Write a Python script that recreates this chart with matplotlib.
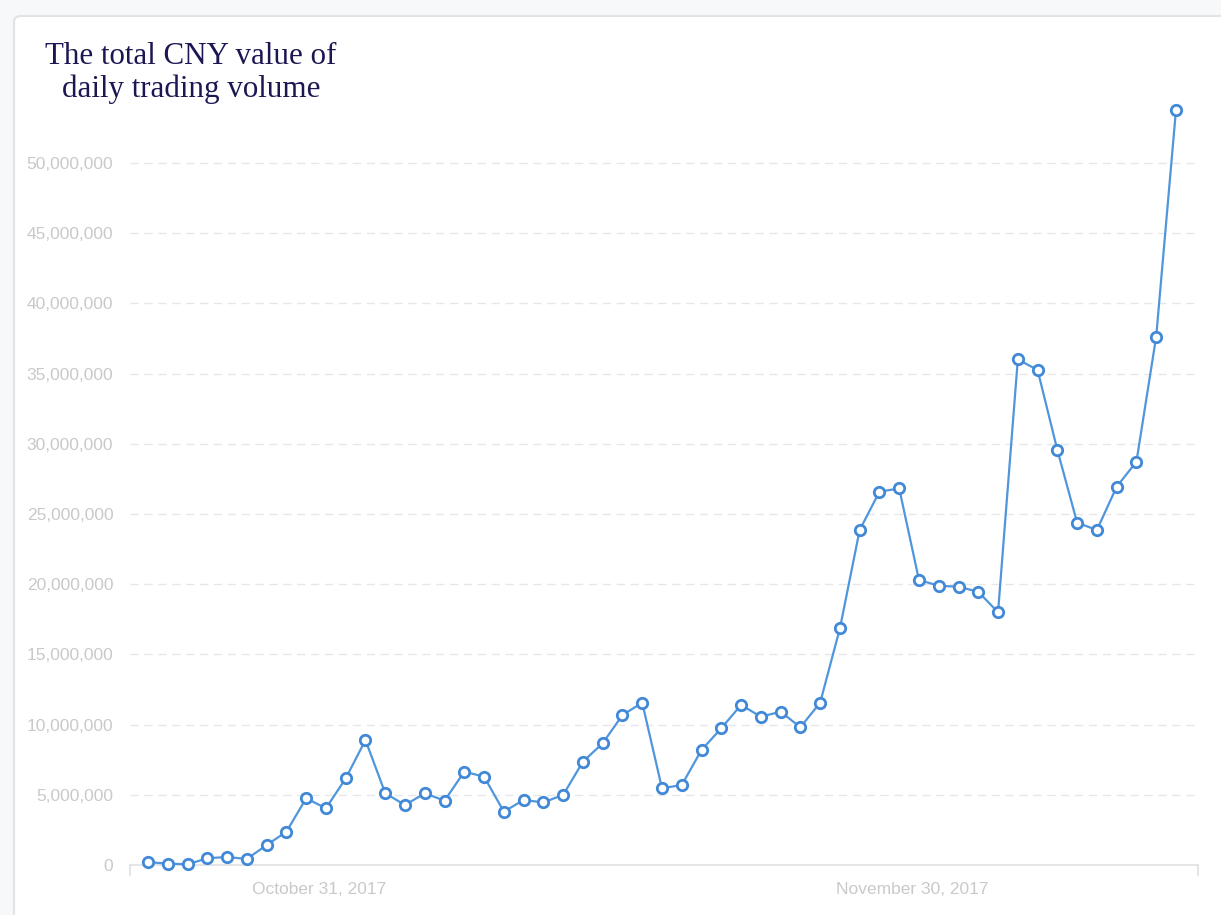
import numpy as np
import pandas as pd
import matplotlib
matplotlib.use('Agg')
import matplotlib.pyplot as plt
import matplotlib.dates as mdates
from matplotlib.patches import FancyBboxPatch
from matplotlib.ticker import FuncFormatter

# daily trading volume in CNY (millions)
start_date = '2017-10-22 08:00'
volume_m = [0.2, 0.1, 0.05, 0.48, 0.57, 0.43, 1.42, 2.37, 4.75, 4.04,
            6.17, 8.90, 5.11, 4.27, 5.11, 4.58, 6.65, 6.29, 3.80, 4.63,
            4.46, 4.99, 7.36, 8.67, 10.68, 11.56, 5.46, 5.70, 8.19, 9.74,
            11.40, 10.56, 10.92, 9.81, 11.56, 16.85, 23.86, 26.59, 26.82, 20.30,
            19.89, 19.82, 19.46, 18.00, 36.01, 35.26, 29.56, 24.38, 23.86, 26.94,
            28.72, 37.63, 53.77]
tick_dates = ['2017-10-31', '2017-11-30']
y_ticks = [0, 5e6, 10e6, 15e6, 20e6, 25e6, 30e6, 35e6, 40e6, 45e6, 50e6]
title = 'The total CNY value of\ndaily trading volume'

dates = pd.date_range(start_date, periods=len(volume_m), freq='D')
volume = np.array(volume_m) * 1e6

W, H = 1221, 915
fig = plt.figure(figsize=(W / 100, H / 100), dpi=100)
fig.patch.set_facecolor('#f7f8fa')

# white card behind everything
card = FancyBboxPatch((14 / W, 1 - 930 / H), 1230 / W, 914 / H,
                      boxstyle='round,pad=0,rounding_size=0.006',
                      transform=fig.transFigure, facecolor='white',
                      edgecolor='#e2e3e6', linewidth=1.5, zorder=-5)
fig.patches.append(card)

ax = fig.add_axes([130 / W, 50 / H, 1068 / W, (865 - 92.8) / H])
ax.set_facecolor('none')
ax.set_zorder(2)

ax.plot(dates, volume, color='#5096dc', linewidth=1.6, marker='o',
        markersize=7.5, markerfacecolor='white', markeredgecolor='#4189d6',
        markeredgewidth=2.0, zorder=3, clip_on=False)

day0 = dates[0]
ax.set_xlim(day0 - pd.Timedelta(days=0.912), dates[-1] + pd.Timedelta(days=1.115))
ax.set_ylim(0, 55e6)

ax.set_yticks(y_ticks)
ax.yaxis.set_major_formatter(FuncFormatter(lambda v, p: '{:,.0f}'.format(v)))
ax.set_xticks(pd.to_datetime(tick_dates))
ax.xaxis.set_major_formatter(mdates.DateFormatter('%B %d, %Y'))

ax.grid(axis='y', color='#e7e7ea', linestyle=(0, (6, 4)), linewidth=1.0)
ax.grid(axis='x', visible=False)
ax.set_axisbelow(True)

for s in ['top', 'right', 'left']:
    ax.spines[s].set_visible(False)
ax.spines['bottom'].set_color('#e3e3e5')
ax.spines['bottom'].set_linewidth(1.3)

# end ticks of the x axis
for xa in [0, 1]:
    ax.plot([xa, xa], [0, -0.0135], transform=ax.transAxes, color='#e3e3e5',
            linewidth=1.3, clip_on=False)

ax.tick_params(axis='both', length=0, labelsize=12.5, labelcolor='#c9c9cc')
ax.tick_params(axis='y', pad=12)
ax.tick_params(axis='x', pad=12)
for lab in ax.get_xticklabels() + ax.get_yticklabels():
    lab.set_fontfamily('Liberation Sans')

fig.text(191 / W, 1 - 73 / H, title, ha='center', va='center',
         fontsize=22.3, fontfamily='Liberation Serif', color='#1b1752',
         linespacing=1.12)

fig.savefig('out.png', dpi=100)
